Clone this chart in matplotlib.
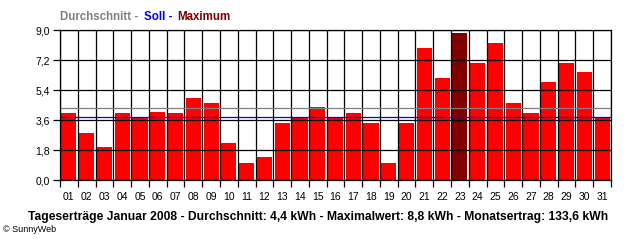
import matplotlib
matplotlib.use("Agg")
import matplotlib.pyplot as plt
from matplotlib.ticker import FixedLocator, FuncFormatter

plt.rcParams["font.family"] = ["Liberation Sans", "DejaVu Sans"]

days = ["%02d" % d for d in range(1, 32)]
yields = [4.0, 2.8, 2.0, 4.0, 3.8, 4.1, 4.0, 4.9, 4.6, 2.2,
          1.0, 1.4, 3.4, 3.8, 4.4, 3.8, 4.0, 3.4, 1.0, 3.4,
          7.9, 6.1, 8.8, 7.0, 8.2, 4.6, 4.0, 5.9, 7.0, 6.5, 3.7]
average = 4.31
soll = 3.76
yticks = [0.0, 1.8, 3.6, 5.4, 7.2, 9.0]

max_idx = yields.index(max(yields))
colors = ["#800000" if i == max_idx else "#ff0000" for i in range(len(yields))]

fig = plt.figure(figsize=(6.4, 2.4), dpi=100)
ax = fig.add_axes([60 / 640, 60 / 240, 551 / 640, 150 / 240])

x = list(range(len(days)))
ax.bar(x, yields, width=0.85, color=colors, zorder=1)

ax.axhline(average, color="#808080", lw=0.9, zorder=3)
ax.axhline(soll, color="#0000ff", lw=0.9, zorder=3)

ax.set_xlim(-0.5, len(days) - 0.5)
ax.set_ylim(0, 9.0)

ax.set_xticks(x)
ax.set_xticklabels(days)
ax.xaxis.set_minor_locator(FixedLocator([i - 0.5 for i in range(len(days) + 1)]))
ax.tick_params(axis="x", which="major", length=0, pad=9, labelsize=7.5)
ax.tick_params(axis="x", which="minor", length=5, width=0.9, direction="out")
ax.set_yticks(yticks)
ax.yaxis.set_major_formatter(FuncFormatter(lambda v, p: ("%.1f" % v).replace(".", ",")))
ax.tick_params(axis="y", length=5, width=0.9, direction="out", labelsize=7.5, pad=2)

ax.grid(True, axis="y", which="major", color="black", lw=0.9, zorder=2)
ax.grid(True, axis="x", which="minor", color="black", lw=0.9, zorder=2)
ax.set_axisbelow(False)
for s in ax.spines.values():
    s.set_linewidth(0.9)
    s.set_zorder(4)

# legend line on top, pieces placed one after another
parts = [("Durchschnitt - ", "#808080"), ("Soll - ", "#0000ff"), ("Maximum", "#800000")]
renderer = fig.canvas.get_renderer()
xpos = 60
for txt, col in parts:
    t = fig.text(xpos / 640, 1 - 17 / 240, txt, color=col, fontsize=8.3,
                 fontweight="bold", va="center", ha="left")
    xpos += t.get_window_extent(renderer).width + 2

fig.text(318 / 640, 1 - 217 / 240,
         "Tageserträge Januar 2008 - Durchschnitt: 4,4 kWh - Maximalwert: 8,8 kWh - Monatsertrag: 133,6 kWh",
         fontsize=8.7, fontweight="bold", ha="center", va="center")
fig.text(3 / 640, 1 - 229 / 240, "© SunnyWeb", fontsize=6.5, ha="left", va="center")

fig.savefig("out.png", dpi=100)
